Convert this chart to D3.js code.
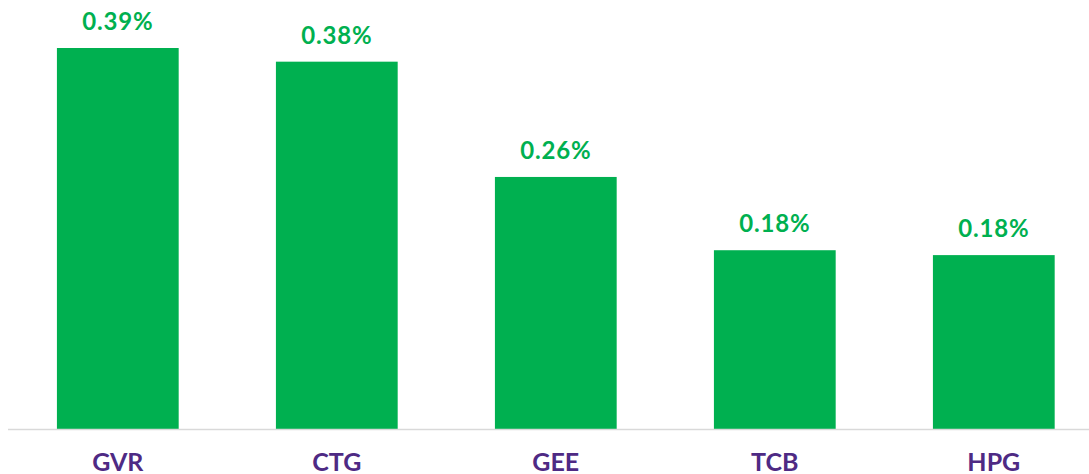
<!DOCTYPE html>
<html>
<head>
<meta charset="utf-8">
<script src="https://cdn.jsdelivr.net/npm/d3@7"></script>
<style>
  body { margin: 0; background: #fff; }
  svg { display: block; font-family: Lato, "Open Sans", sans-serif; }
</style>
</head>
<body>
<div id="chart"></div>
<script>
let tickers = ['GVR', 'CTG', 'GEE', 'TCB', 'HPG']
let weights = [0.390, 0.376, 0.258, 0.183, 0.178]

let width = 1089
let height = 474
let barColor = '#00b050'
let nameColor = '#4e2a84'
let baseY = 429

let svg = d3.select('#chart').append('svg')
    .attr('width', width)
    .attr('height', height)

let x = d3.scaleBand()
    .domain(tickers)
    .range([8.3, 1103.3])
    .paddingInner(0.444)
    .paddingOuter(0.222)

let y = d3.scaleLinear()
    .domain([0, 0.39])
    .range([baseY, 48])

let rows = tickers.map((t, i) => ({ t: t, v: weights[i] }))

svg.selectAll('rect.bar')
    .data(rows)
    .enter().append('rect')
    .attr('class', 'bar')
    .attr('x', d => x(d.t))
    .attr('y', d => y(d.v))
    .attr('width', x.bandwidth())
    .attr('height', d => baseY - y(d.v))
    .attr('fill', barColor)

// baseline
svg.append('line')
    .attr('x1', 8)
    .attr('x2', width)
    .attr('y1', baseY + 0.5)
    .attr('y2', baseY + 0.5)
    .attr('stroke', '#d9d9d9')
    .attr('stroke-width', 1.5)

// value labels
svg.selectAll('text.val')
    .data(rows)
    .enter().append('text')
    .attr('class', 'val')
    .attr('x', d => x(d.t) + x.bandwidth() / 2)
    .attr('y', d => y(d.v) - 18)
    .attr('text-anchor', 'middle')
    .attr('font-size', 24)
    .attr('font-weight', 'bold')
    .attr('letter-spacing', 0.8)
    .attr('fill', barColor)
    .text(d => d.v.toFixed(2) + '%')

// category labels
let xAxis = svg.append('g')
    .attr('transform', `translate(0,${baseY})`)
    .call(d3.axisBottom(x).tickSize(0).tickPadding(0))
xAxis.select('.domain').remove()
xAxis.selectAll('text')
    .attr('dy', null)
    .attr('y', 42)
    .attr('font-family', 'Lato, "Open Sans", sans-serif')
    .attr('font-size', 25)
    .attr('font-weight', 'bold')
    .attr('fill', nameColor)
</script>
</body>
</html>
